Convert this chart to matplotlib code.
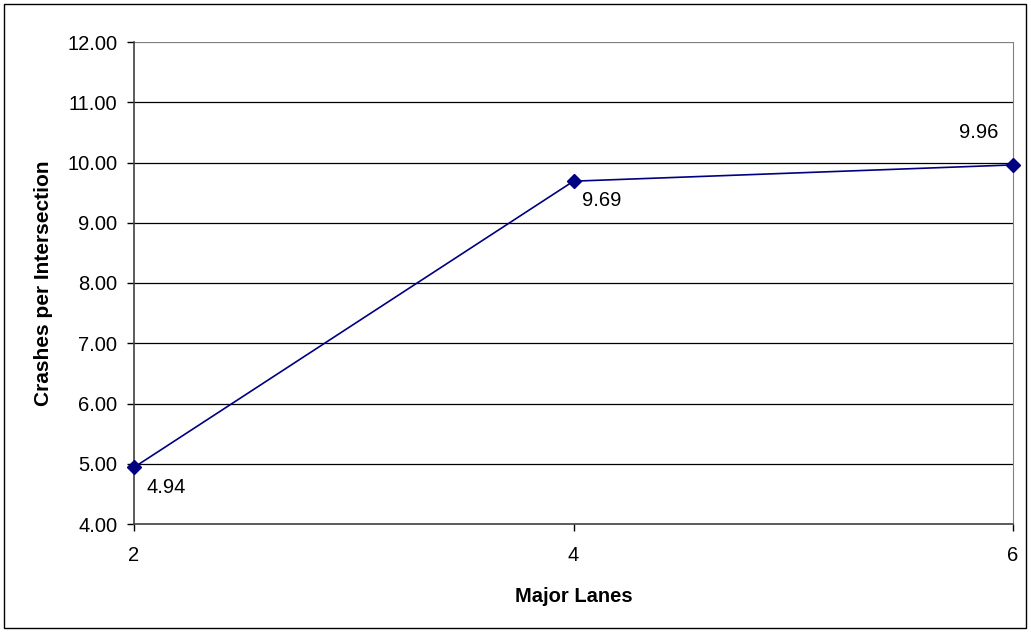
import matplotlib
matplotlib.use("Agg")
import matplotlib.pyplot as plt
from matplotlib.patches import Rectangle

plt.rcParams['font.family'] = ['Liberation Sans', 'DejaVu Sans']

# data
lanes = [2, 4, 6]
crashes = [4.94, 9.69, 9.96]
y_ticks = [4, 5, 6, 7, 8, 9, 10, 11, 12]

fig = plt.figure(figsize=(10.31, 6.32), dpi=100)
fig.patch.set_facecolor('white')
fig.patches.append(Rectangle((4/1031, 4/632), 1022/1031, 624/632,
                             transform=fig.transFigure, fill=False,
                             edgecolor='black', linewidth=1))

ax = fig.add_axes([134/1031, 1 - 524/632, 879/1031, 482/632])

for v in y_ticks[1:]:
    ax.axhline(v, color='black' if v < 12 else '#808080', linewidth=0.9, zorder=1)

ax.plot(lanes, crashes, color='#000080', linewidth=1.2, marker='D',
        markersize=7, markerfacecolor='#000080', markeredgecolor='#000080',
        zorder=3, clip_on=False)

# value labels (offsets in points)
offsets = [(9, -14.5), (6, -14), (-39, 23)]
for x, y, (dx, dy) in zip(lanes, crashes, offsets):
    ax.annotate(f'{y:.2f}', (x, y), textcoords='offset points', xytext=(dx, dy),
                fontsize=14.5, color='black', ha='left', va='center')

ax.set_xlim(2, 6)
ax.set_ylim(4, 12)
ax.set_xticks(lanes)
ax.set_yticks(y_ticks)
ax.set_yticklabels([f'{v:.2f}' for v in y_ticks])
ax.tick_params(axis='both', labelsize=14.5, colors='black', direction='out',
               length=5, width=1)
ax.tick_params(axis='y', pad=7)
ax.tick_params(axis='x', pad=11)

ax.spines['top'].set_visible(False)
ax.spines['right'].set_color('#808080')
ax.spines['left'].set_color('#404040')
ax.spines['bottom'].set_color('#404040')
ax.spines['left'].set_linewidth(1.2)
ax.spines['bottom'].set_linewidth(1.2)

ax.set_xlabel('Major Lanes', fontsize=14.5, fontweight='bold')
ax.set_ylabel('Crashes per Intersection', fontsize=15, fontweight='bold')
ax.xaxis.set_label_coords(0.5, -0.13)
ax.yaxis.set_label_coords(-0.092, 0.5)

fig.savefig('out.png', dpi=100, facecolor='white')
